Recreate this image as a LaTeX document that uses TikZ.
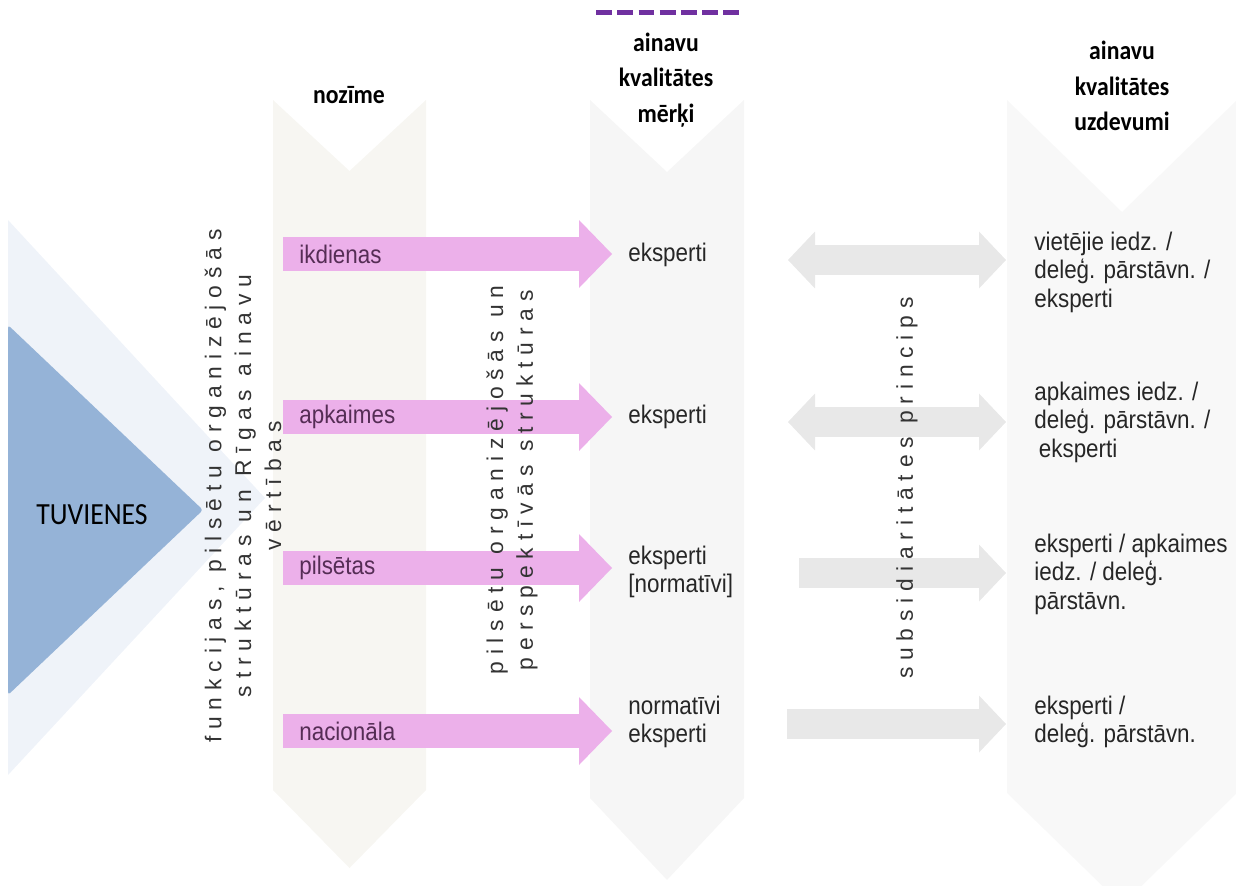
\documentclass[tikz,border=0pt]{standalone}
\usepackage{fontspec}
\setmainfont{Liberation Sans}
\newfontfamily\headfont[FakeStretch=0.9]{Carlito}
\newfontfamily\bodyfont[FakeStretch=0.88]{Liberation Sans}
\newfontfamily\vertfont[LetterSpace=30]{Liberation Sans}
\usetikzlibrary{arrows.meta}
\definecolor{tuvdark}{RGB}{149,179,215}
\definecolor{tuvlight}{RGB}{239,243,249}
\definecolor{colwarm}{RGB}{247,246,242}
\definecolor{colgray}{RGB}{246,246,246}
\definecolor{pinkfill}{RGB}{236,176,234}
\definecolor{arrowgray}{RGB}{232,232,232}
\definecolor{plumtext}{RGB}{85,45,85}
\definecolor{dashpurple}{RGB}{112,48,160}
\tikzset{
  headtext/.style={font=\headfont\bfseries\fontsize{15}{20.2}\selectfont, align=center},
  bodytext/.style={font=\bodyfont\fontsize{14.5}{16.2}\selectfont, align=left, anchor=west, text=black!85, inner sep=0pt},
  rowtext/.style={bodytext, text=plumtext},
  verttext/.style={font=\vertfont\fontsize{13}{17}\selectfont, align=center, rotate=90, text=black!80},
  pinktip/.tip={Triangle[length=6.6mm 0 0, width=13.6mm 0 0, line width=0pt 0 0]},
  graytip/.tip={Triangle[length=5.4mm 0 0, width=11.4mm 0 0, line width=0pt 0 0]},
  pinkarrow/.style={line width=6.8mm, pinkfill, -pinktip},
  grayarrow/.style={line width=6mm, arrowgray, -graytip},
  graydouble/.style={line width=6mm, arrowgray, graytip-graytip}
}
\begin{document}
\begin{tikzpicture}[x=0.02cm, y=-0.02cm]
    \useasboundingbox (0,0) rectangle (1236,885);
    % Columns
    \fill [colwarm] (273,100) -- (349.5,171) -- (426,100) -- (426,790) -- (349.5,868) -- (273,790) -- cycle;
    \fill [colgray] (590,100) -- (667,172) -- (744,100) -- (744,798) -- (667,880) -- (590,798) -- cycle;
    \fill [colgray!80!white] (1007,100) -- (1122,212) -- (1237,100) -- (1237,793) -- (1122,905) -- (1007,793) -- cycle;
    % Tuvienes triangles
    \fill [tuvlight] (8,220) -- (265,498) -- (8,775) -- cycle;
    \fill [tuvdark, rounded corners=0.6mm] (8,325) -- (203,510) -- (8,695) -- cycle;
    \node [font=\headfont\fontsize{17.5}{20}\selectfont] (tuvienes) at (92,515) {TUVIENES};
    % Dashed line over the middle column
    \coordinate (dashl) at (596,13);
    \coordinate (dashr) at (740,13);
    \draw [dashpurple, line width=1mm, dash pattern=on 3.2mm off 1.05mm] (dashl) -- (dashr);
    % Headers
    \node [headtext] (nozime) at (349,95) {nozīme};
    \node [headtext] (merki) at (666,80) {ainavu\\kvalitātes\\mērķi};
    \node [headtext] (uzdevumi) at (1122,86) {ainavu\\kvalitātes\\uzdevumi};
    % Pink arrows
    \coordinate (r1s) at (283,254);
    \coordinate (r1t) at (612,254);
    \coordinate (r2s) at (283,417);
    \coordinate (r2t) at (612,417);
    \coordinate (r3s) at (283,568);
    \coordinate (r3t) at (612,568);
    \coordinate (r4s) at (283,731);
    \coordinate (r4t) at (612,731);
    \draw [pinkarrow] (r1s) -- (r1t);
    \draw [pinkarrow] (r2s) -- (r2t);
    \draw [pinkarrow] (r3s) -- (r3t);
    \draw [pinkarrow] (r4s) -- (r4t);
    \node [rowtext] (ikdienas) at (299,254) {ikdienas};
    \node [rowtext] (apkaimes) at (299,417) {apkaimes};
    \node [rowtext] (pilsetas) at (299,568) {pilsētas};
    \node [rowtext] (nacionala) at (299,731) {nacionāla};
    % Middle column
    \node [bodytext] (merki1) at (628,255) {eksperti};
    \node [bodytext] (merki2) at (628,417) {eksperti};
    \node [bodytext] (merki3) at (628,572) {eksperti\\{[normatīvi]}};
    \node [bodytext] (merki4) at (628,722) {normatīvi\\eksperti};
    % Gray arrows
    \coordinate (g1l) at (788,260);
    \coordinate (g1r) at (1006,260);
    \coordinate (g2l) at (788,422);
    \coordinate (g2r) at (1006,422);
    \coordinate (g3l) at (799,573);
    \coordinate (g3r) at (1006,573);
    \coordinate (g4l) at (787,724);
    \coordinate (g4r) at (1006,724);
    \draw [graydouble] (g1l) -- (g1r);
    \draw [graydouble] (g2l) -- (g2r);
    \draw [grayarrow] (g3l) -- (g3r);
    \draw [grayarrow] (g4l) -- (g4r);
    % Right column
    \node [bodytext] (uzd1) at (1034,272) {vietējie iedz. /\\deleģ. pārstāvn. /\\eksperti};
    \node [bodytext] (uzd2) at (1034,422) {apkaimes iedz. /\\deleģ. pārstāvn. /\\\hspace{0.9mm}eksperti};
    \node [bodytext] (uzd3) at (1034,574) {eksperti / apkaimes\\iedz. / deleģ.\\pārstāvn.};
    \node [bodytext] (uzd4) at (1034,722) {eksperti /\\deleģ. pārstāvn.};
    % Vertical labels
    \node [verttext] (vertibas) at (243,486) {funkcijas, pilsētu organizējošās\\struktūras un Rīgas ainavu\\vērtības};
    \node [verttext] (strukturas) at (512,480) {pilsētu organizējošās un\\perspektīvās struktūras};
    \node [verttext] (princips) at (907,488) {subsidiaritātes princips};
\end{tikzpicture}
\end{document}
